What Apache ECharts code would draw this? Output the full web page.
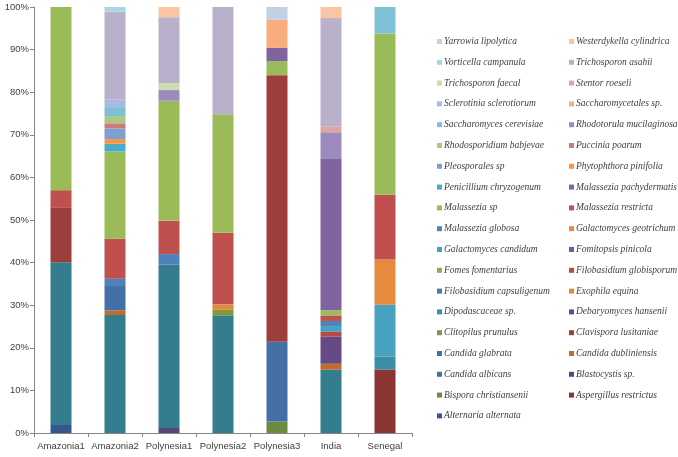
<!DOCTYPE html>
<html>
<head>
<meta charset="utf-8">
<script src="https://cdn.jsdelivr.net/npm/echarts@6/dist/echarts.min.js"></script>
<style>
  html, body { margin: 0; padding: 0; background: #fff; }
  #chart { width: 678px; height: 457px; }
</style>
</head>
<body>
<div id="chart"></div>
<script>
var categories = ['Amazonia1', 'Amazonia2', 'Polynesia1', 'Polynesia2', 'Polynesia3', 'India', 'Senegal'];

// stacking order, bottom first
var species = [
  'Alternaria alternata', 'Aspergillus restrictus', 'Bispora christiansenii', 'Blastocystis sp.',
  'Candida albicans', 'Candida dubliniensis', 'Candida glabrata', 'Clavispora lusitaniae',
  'Clitopilus prunulus', 'Debaryomyces hansenii', 'Dipodascaceae sp.', 'Exophila equina',
  'Filobasidium capsuligenum', 'Filobasidium globisporum', 'Fomes fomentarius', 'Fomitopsis pinicola',
  'Galactomyces candidum', 'Galactomyces geotrichum', 'Malassezia globosa', 'Malassezia restricta',
  'Malassezia sp', 'Malassezia pachydermatis', 'Penicillium chryzogenum', 'Phytophthora pinifolia',
  'Pleosporales sp', 'Puccinia poarum', 'Rhodosporidium babjevae', 'Rhodotorula mucilaginosa',
  'Saccharomyces cerevisiae', 'Saccharomycetales sp.', 'Sclerotinia sclerotiorum', 'Stentor roeseli',
  'Trichosporon faecal', 'Trichosporon asahii', 'Vorticella campanula', 'Westerdykella cylindrica',
  'Yarrowia lipolytica'
];

var colors = [
  '#35588c', '#8b3431', '#6e8a3d', '#5b4577', '#347d8e', '#c46a2c', '#4470a8', '#9c3e3c',
  '#7b9a42', '#654a86', '#3b8ea6', '#e08a3e', '#4a77ae', '#b84a47', '#8cb050', '#7458a0',
  '#47a2bf', '#e58b40', '#4f81bd', '#c0504d', '#9bbb59', '#8064a2', '#4bacc6', '#f79646',
  '#7f9fd1', '#c87d7b', '#acc885', '#9e8bbe', '#7ec0d5', '#f9ad7d', '#a7badf', '#dda6a5',
  '#c9ddb0', '#b9b0cc', '#a9d6e4', '#fbc4a4', '#c2d0e5'
];

// share (%) of each species per sample, same order as species
var amazonia1  = [1.9, 0, 0, 0, 38.2, 0, 0, 12.9, 0, 0,  0, 0, 0, 0, 0, 0, 0, 0, 0, 4.0,
                  43.0, 0, 0, 0, 0, 0, 0, 0, 0, 0,  0, 0, 0, 0, 0, 0, 0];
var amazonia2  = [0, 0, 0, 0, 27.7, 1.1, 5.7, 0, 0, 0,  0, 0, 0, 0, 0, 0, 0, 0, 1.7, 9.4,
                  20.45, 0, 1.85, 1.1, 2.5, 1.2, 1.7, 0, 2.1, 0,  1.7, 0, 0, 20.7, 1.1, 0, 0];
var polynesia1 = [0, 0, 0, 1.2, 38.3, 0, 0, 0, 0, 0,  0, 0, 0, 0, 0, 0, 0, 0, 2.5, 7.8,
                  28.2, 0, 0, 0, 0, 0, 0, 2.5, 0, 0,  0, 0, 1.6, 15.5, 0, 2.4, 0];
var polynesia2 = [0, 0, 0, 0, 27.5, 0, 0, 0, 1.4, 0,  0, 1.3, 0, 0, 0, 0, 0, 0, 0, 16.8,
                  27.8, 0, 0, 0, 0, 0, 0, 0, 0, 0,  0, 0, 0, 25.2, 0, 0, 0];
var polynesia3 = [0, 0, 2.7, 0, 0, 0, 18.7, 62.6, 0, 0,  0, 0, 0, 0, 0, 0, 0, 0, 0, 0,
                  3.3, 3.1, 0, 0, 0, 0, 0, 0, 0, 6.6,  0, 0, 0, 0, 0, 0, 3.0];
var india      = [0, 0, 0, 0, 14.9, 1.35, 0, 0, 0, 6.35,  0, 0, 0, 1.15, 0, 0, 1.35, 0, 1.2, 1.3,
                  1.2, 35.5, 0, 0, 0, 0, 0, 6.3, 0, 0,  0, 1.4, 0, 25.4, 0, 2.6, 0];
var senegal    = [0, 14.9, 0, 0, 0, 0, 0, 0, 0, 0,  3.1, 0, 0, 0, 0, 0, 12.1, 10.6, 0, 15.2,
                  37.9, 0, 0, 0, 0, 0, 0, 0, 6.2, 0,  0, 0, 0, 0, 0, 0, 0];

var samples = [amazonia1, amazonia2, polynesia1, polynesia2, polynesia3, india, senegal];

var yTicks = [0, 10, 20, 30, 40, 50, 60, 70, 80, 90, 100];

// 100% stacked: scale each sample to its total
var totals = samples.map(function (s) {
  return s.reduce(function (a, b) { return a + b; }, 0);
});

var series = species.map(function (name, i) {
  return {
    name: name,
    type: 'bar',
    stack: 'total',
    barWidth: 21,
    itemStyle: { color: colors[i] },
    emphasis: { disabled: true },
    data: samples.map(function (s, k) { return s[i] / totals[k] * 100; })
  };
});

// legend shown top to bottom in reverse order, two columns row by row
var reversed = species.slice().reverse();
var leftCol = reversed.filter(function (n, i) { return i % 2 === 0; });
var rightCol = reversed.filter(function (n, i) { return i % 2 === 1; });

var legendBase = {
  orient: 'vertical',
  top: 31,
  icon: 'rect',
  itemWidth: 5,
  itemHeight: 5,
  itemGap: 9.8,
  selectedMode: false,
  textStyle: {
    fontFamily: 'Liberation Serif',
    fontStyle: 'italic',
    fontSize: 9.5,
    lineHeight: 11,
    color: '#404040',
    padding: [0, 0, 0, -3]
  }
};

var myChart = echarts.init(document.getElementById('chart'), null, { renderer: 'canvas' });

var option = {
  animation: false,
  color: colors,
  grid: { left: 34, right: 266, top: 7, bottom: 24, containLabel: false },
  legend: [
    Object.assign({}, legendBase, { left: 432, data: leftCol }),
    Object.assign({}, legendBase, { left: 564, data: rightCol })
  ],
  xAxis: {
    type: 'category',
    data: categories,
    axisLine: { lineStyle: { color: '#868686' } },
    axisTick: { show: true, length: 4, lineStyle: { color: '#868686' } },
    axisLabel: { interval: 0, fontFamily: 'Liberation Sans', fontSize: 9.5, color: '#404040', margin: 8 }
  },
  yAxis: {
    type: 'value',
    min: yTicks[0],
    max: yTicks[yTicks.length - 1],
    interval: 10,
    splitLine: { show: false },
    axisLine: { show: true, lineStyle: { color: '#868686' } },
    axisTick: { show: true, length: 4, lineStyle: { color: '#868686' } },
    axisLabel: {
      formatter: '{value}%',
      fontFamily: 'Liberation Sans',
      fontSize: 9.5,
      color: '#404040',
      margin: 5
    }
  },
  series: series
};

myChart.setOption(option);
</script>
</body>
</html>
